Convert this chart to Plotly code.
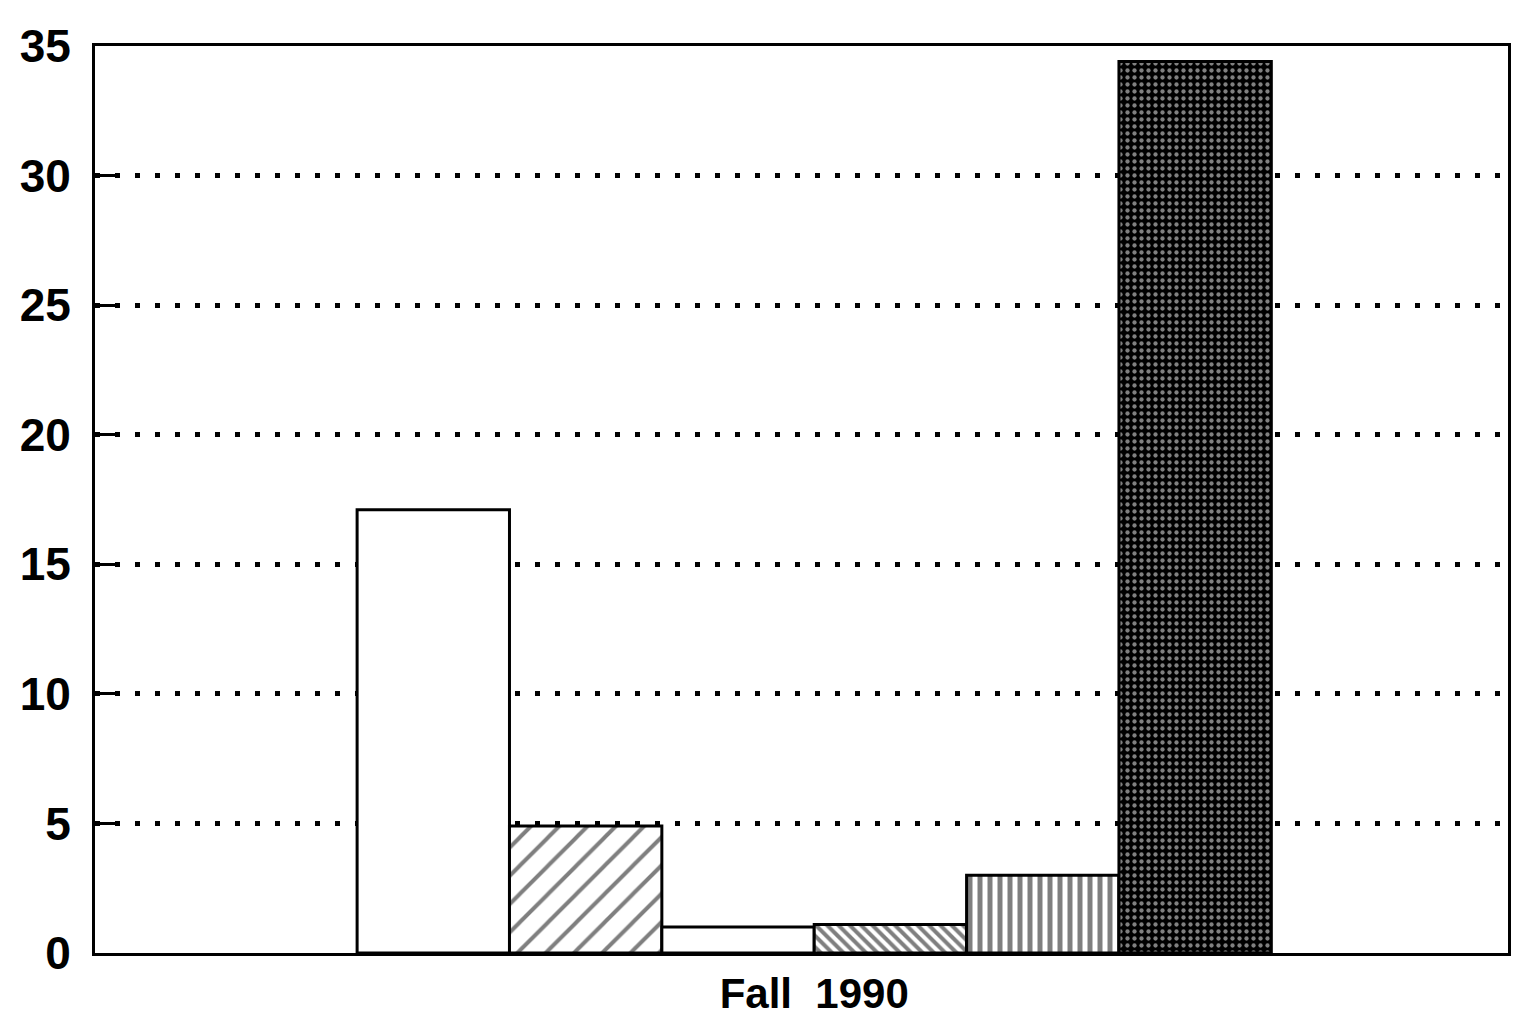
import plotly.graph_objects as go

category = ["Fall\u00a0\u00a01990"]
series_names = ["A", "B", "C", "D", "E", "F"]
values = [17.1, 4.9, 1.0, 1.1, 3.0, 34.4]
y_ticks = [0, 5, 10, 15, 20, 25, 30, 35]

# per-series fill styles
fills = [
    dict(color="white", pattern=dict(shape="")),
    dict(color="white", pattern=dict(shape="/", size=20, solidity=0.2, fgcolor="black", bgcolor="white")),
    dict(color="white", pattern=dict(shape="")),
    dict(color="white", pattern=dict(shape="\\", size=8, solidity=0.5, fgcolor="black", bgcolor="white")),
    dict(color="white", pattern=dict(shape="|", size=10, solidity=0.5, fgcolor="black", bgcolor="white")),
    dict(color="black", pattern=dict(shape=".", size=7, solidity=0.3, fgcolor="white", bgcolor="black")),
]

fig = go.Figure()
for name, v, f in zip(series_names, values, fills):
    fig.add_trace(go.Bar(
        x=category, y=[v], name=name,
        marker=dict(color=f["color"], pattern=f["pattern"],
                    line=dict(color="black", width=3)),
    ))

fig.update_layout(
    width=1526, height=1025,
    margin=dict(l=86, r=26, t=34, b=80),
    paper_bgcolor="white", plot_bgcolor="white",
    barmode="group", bargap=0.353, bargroupgap=0,
    showlegend=False,
    font=dict(family="Liberation Sans, Arial, sans-serif", size=46, color="black", weight="bold"),
)
fig.update_yaxes(
    range=[0, 35], tickvals=y_ticks, ticktext=[str(t) for t in y_ticks],
    showgrid=True, gridcolor="black", gridwidth=5, griddash="5px,15px",
    showline=True, linecolor="black", linewidth=3, mirror=True,
    ticks="inside", ticklen=24, tickwidth=3, tickcolor="black",
    zeroline=False, ticklabelstandoff=12,
)
fig.update_xaxes(
    range=[-0.509, 0.491],
    showline=True, linecolor="black", linewidth=3, mirror=True,
    showgrid=False, ticks="", tickfont=dict(size=42, weight="bold"),
    ticklabelstandoff=2,
)

fig.write_html("out.html")
